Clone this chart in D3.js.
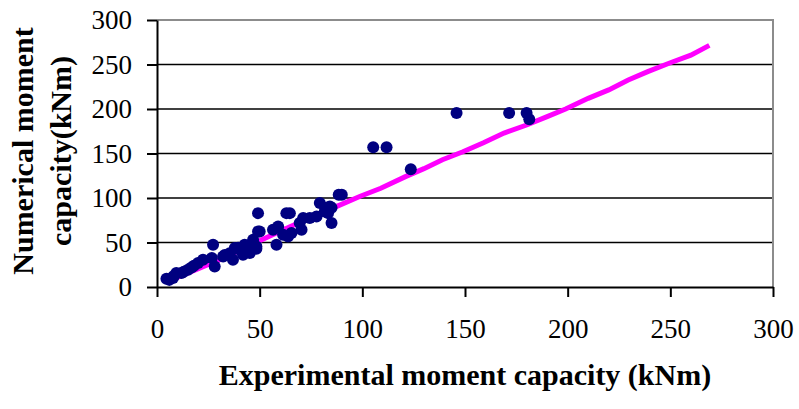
<!DOCTYPE html>
<html>
<head>
<meta charset="utf-8">
<script src="https://cdn.jsdelivr.net/npm/d3@7"></script>
<style>
  html, body { margin: 0; padding: 0; background: #fff; }
  svg { display: block; }
  text { font-family: "Liberation Serif", "Times New Roman", serif; fill: #000; }
</style>
</head>
<body>
<svg id="chart" width="799" height="409"></svg>
<script>
// Experimental vs numerical moment capacity (kNm)
const expCapacity = [
  4.6, 6, 7.8, 8, 9.4, 11.9, 13, 15.1, 16.8, 18, 20, 22.4, 26.7, 27.3, 28.1,
  32.2, 33, 35.4, 37, 37.9, 39.5, 40.3, 41.9, 42.7, 43.6, 45.2, 46.8, 48.4, 48.4, 49.2,
  49.2, 50, 56.5, 58.2, 59, 61.4, 63, 63.8, 64.7, 65.5, 69.5, 70.4, 71.2, 74.4, 77.7,
  79.3, 81.7, 82.5, 83.3, 84.2, 85, 85, 88.5, 90,
  105.3, 111.8, 123.6, 145.9, 171.5, 180, 181.3
];
const numCapacity = [
  9.3, 8, 10, 12, 15.7, 15.7, 17, 19.4, 22, 24, 27, 30.6, 32.5, 47.5, 23,
  34.4, 36, 38, 30.6, 43.8, 44, 41.9, 36.3, 47.5, 45, 38.2, 53, 43, 45.6, 62.4,
  83, 62.4, 64.3, 47.5, 68, 58.7, 83, 56.8, 83, 60.6, 71.8, 64.3, 77.4, 77.4, 79.2,
  94.3, 84.8, 89, 83, 90.5, 71.8, 89, 103.6, 103.6,
  157, 157, 132.4, 195.4, 195.4, 195.4, 188.6
];

// Reference line through the results
const lineX = [5, 30, 50, 65, 87, 99, 109, 121, 130, 139, 149, 159, 169, 180, 190, 199, 210, 220, 229.5, 239, 250, 260, 269];
const lineY = [6, 30, 52, 68, 90, 102, 111, 124, 133, 143, 152, 162, 173, 182, 191.5, 200, 212, 221.5, 232.5, 242, 252, 260.5, 271.5];

const xTicks = [0, 50, 100, 150, 200, 250, 300];
const yTicks = [0, 50, 100, 150, 200, 250, 300];

const xTitle = "Experimental moment capacity (kNm)";
const yTitleLines = ["Numerical moment", "capacity(kNm)"];

const svg = d3.select("#chart");
const plotLeft = 157, plotRight = 773, plotTop = 20, plotBottom = 287;

const x = d3.scaleLinear().domain([0, 300]).range([plotLeft, plotRight]);
const y = d3.scaleLinear().domain([0, 300]).range([plotBottom, plotTop]);

svg.append("rect").attr("width", 799).attr("height", 409).attr("fill", "#fff");

// Horizontal gridlines
svg.append("g").selectAll("line")
  .data(yTicks.filter(d => d > 0 && d < 300))
  .join("line")
  .attr("x1", plotLeft).attr("x2", plotRight)
  .attr("y1", d => y(d)).attr("y2", d => y(d))
  .attr("stroke", "#000").attr("stroke-width", 1.6);

// Plot-area border (top and right)
svg.append("path")
  .attr("d", `M${plotLeft},${y(300)}H${plotRight}V${plotBottom}`)
  .attr("fill", "none").attr("stroke", "#8c8c8c").attr("stroke-width", 2);

// Axes
const xAxis = d3.axisBottom(x).tickValues(xTicks).tickSize(10).tickPadding(22).tickSizeOuter(0);
const yAxis = d3.axisLeft(y).tickValues(yTicks).tickSize(10).tickPadding(15).tickSizeOuter(0);

const gx = svg.append("g").attr("transform", `translate(0,${plotBottom})`).call(xAxis);
const gy = svg.append("g").attr("transform", `translate(${plotLeft},0)`).call(yAxis);

[gx, gy].forEach(g => {
  g.select(".domain").attr("stroke", "#000").attr("stroke-width", 2);
  g.selectAll(".tick line").attr("stroke", "#000").attr("stroke-width", 2);
  g.selectAll(".tick text")
    .attr("font-family", "'Liberation Serif', 'Times New Roman', serif")
    .attr("font-size", 27).attr("fill", "#000");
});

// Reference line
const line = d3.line().x((d, i) => x(lineX[i])).y((d, i) => y(lineY[i]));
svg.append("path")
  .datum(lineX)
  .attr("d", line)
  .attr("fill", "none")
  .attr("stroke", "#ff00ff")
  .attr("stroke-width", 5);

// Data points
svg.append("g").selectAll("circle")
  .data(expCapacity.map((v, i) => [v, numCapacity[i]]))
  .join("circle")
  .attr("cx", d => x(d[0]))
  .attr("cy", d => y(d[1]))
  .attr("r", 6)
  .attr("fill", "#000080");

// Axis titles
svg.append("text")
  .attr("x", (plotLeft + plotRight) / 2).attr("y", 385)
  .attr("text-anchor", "middle")
  .attr("font-size", 30).attr("font-weight", "bold")
  .text(xTitle);

const yTitleX = [33, 70.7];
yTitleLines.forEach((t, i) => {
  svg.append("text")
    .attr("transform", `translate(${yTitleX[i]},151) rotate(-90)`)
    .attr("text-anchor", "middle")
    .attr("font-size", 30).attr("font-weight", "bold")
    .text(t);
});
</script>
</body>
</html>
